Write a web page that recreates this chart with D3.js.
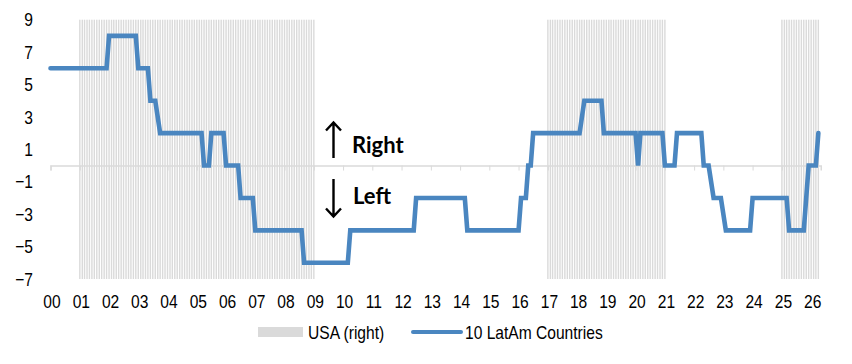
<!DOCTYPE html>
<html lang="en">
<head>
<meta charset="UTF-8" />
<title>LatAm political swing</title>
<script src="https://cdn.jsdelivr.net/npm/d3@7"></script>
<style>
  body { margin: 0; background: #fff; }
  svg text { font-family: "Liberation Sans Narrow", "Arial Narrow", "Liberation Sans", Arial, sans-serif; fill: #000; }
  .note { font-family: Lato, "Open Sans", sans-serif; font-weight: bold; }
</style>
</head>
<body>
<script>
// --- data ---
// 10 LatAm Countries: months where the step series changes (value held between them)
var lineMonths = ["2000-01","2001-12","2002-01","2002-12","2003-01","2003-05","2003-06","2003-08","2003-10",
  "2005-03","2005-04","2005-06","2005-07","2005-12","2006-01","2006-06","2006-07","2006-12","2007-01",
  "2008-08","2008-09","2010-03","2010-04","2012-06","2012-07","2014-03","2014-04","2016-01","2016-02",
  "2016-04","2016-05","2016-06","2016-07","2018-02","2018-04","2018-11","2018-12","2020-01","2020-02",
  "2020-03","2020-12","2021-01","2021-05","2021-06","2022-04","2022-05","2022-07","2022-09","2022-12",
  "2023-02","2023-12","2024-01","2025-03","2025-04","2025-10","2025-12","2026-03","2026-04"];
var lineValues = [6,6,8,8,6,6,4,4,2,
  2,0,0,2,2,0,0,-2,-2,-4,
  -4,-6,-6,-4,-4,-2,-2,-4,-4,-2,
  -2,0,0,2,2,4,4,2,2,0,
  2,2,0,0,2,2,0,0,-2,-2,
  -4,-4,-2,-2,-4,-4,0,0,2];

// USA (right): periods with a monthly bar of 1 (right-wing administration)
var usaStart = ["2001-01","2017-01","2025-01"];
var usaEnd   = ["2009-01","2021-01","2026-04"];

var yTicks = [9,7,5,3,1,-1,-3,-5,-7];
var legendLabels = ["USA (right)", "10 LatAm Countries"];

var W = 852, H = 364;
var blue = "#4a86c0", grey = "#dadada";
var parse = d3.timeParse("%Y-%m");

// squeeze text to look like Arial Narrow
function narrow(sel) {
  sel.each(function() {
    var len = this.getComputedTextLength();
    d3.select(this).attr("textLength", len * 0.82).attr("lengthAdjust", "spacingAndGlyphs");
  });
}

var svg = d3.select("body").append("svg").attr("width", W).attr("height", H);

var x = d3.scaleTime()
  .domain([parse("2000-01"), parse("2026-05")])
  .range([50.5, 820.75]);
var y = d3.scaleLinear().domain([-7, 9]).range([279, 19.7]);
var y2 = d3.scaleLinear().domain([0, 1]).range([279, 19.7]);

// USA shading: monthly columns
var usaBars = [];
usaStart.forEach(function(s, i) {
  d3.timeMonth.range(parse(s), d3.timeMonth.offset(parse(usaEnd[i]), 1)).forEach(function(d) {
    usaBars.push({ date: d, value: 1 });
  });
});
var bw = 1.4;
svg.append("g").selectAll("rect")
  .data(usaBars)
  .enter()
  .append("rect")
  .attr("x", function(d) { return x(d.date) - bw / 2; })
  .attr("y", function(d) { return y2(d.value); })
  .attr("width", bw)
  .attr("height", function(d) { return y2(0) - y2(d.value); })
  .attr("fill", grey);

// zero axis with year ticks
var zeroAxis = d3.axisBottom(x).ticks(d3.timeYear.every(1)).tickSize(5).tickFormat("");
var za = svg.append("g")
  .attr("transform", "translate(0," + y(0) + ")")
  .call(zeroAxis);
za.select(".domain").attr("stroke", grey).attr("stroke-width", 1.5);
za.selectAll(".tick line").attr("stroke", grey);

// y labels
var yAxis = d3.axisLeft(y).tickValues(yTicks).tickSize(0);
var ya = svg.append("g").attr("transform", "translate(33,0)").call(yAxis);
ya.select(".domain").remove();
ya.selectAll("text").attr("x", 0).attr("font-size", 19).call(narrow);

// x labels
var xAxis = d3.axisBottom(x).ticks(d3.timeYear.every(1)).tickSize(0).tickFormat(d3.timeFormat("%y"));
var xa = svg.append("g").attr("transform", "translate(1,290)").call(xAxis);
xa.select(".domain").remove();
xa.selectAll("text").attr("y", 0).attr("dy", "0.95em").attr("font-size", 19).call(narrow);

// LatAm line
var pts = lineMonths.map(function(m, i) { return { date: parse(m), value: lineValues[i] }; });
var line = d3.line()
  .x(function(d) { return x(d.date); })
  .y(function(d) { return y(d.value); });
svg.append("path")
  .datum(pts)
  .attr("d", line)
  .attr("fill", "none")
  .attr("stroke", blue)
  .attr("stroke-width", 4.6)
  .attr("stroke-linecap", "round");

// Right / Left annotation
var arr = svg.append("g").attr("stroke", "#000").attr("stroke-width", 2.4).attr("fill", "none");
arr.append("path").attr("d", "M333.5,158 V123 M326,130.5 L333.5,122.5 L341,130.5");
arr.append("path").attr("d", "M333.5,179 V216 M326,208.5 L333.5,216.5 L341,208.5");
svg.append("text").attr("class", "note").attr("x", 352).attr("y", 152.5).attr("font-size", 22).text("Right");
svg.append("text").attr("class", "note").attr("x", 353).attr("y", 204).attr("font-size", 22).text("Left");

// legend
var lg = svg.append("g");
lg.append("rect").attr("x", 258).attr("y", 327).attr("width", 45).attr("height", 10).attr("fill", grey);
lg.append("text").attr("x", 308).attr("y", 339).attr("font-size", 19).text(legendLabels[0]).call(narrow);
lg.append("line").attr("x1", 413).attr("x2", 461).attr("y1", 332).attr("y2", 332)
  .attr("stroke", blue).attr("stroke-width", 4).attr("stroke-linecap", "round");
lg.append("text").attr("x", 465).attr("y", 339).attr("font-size", 19).text(legendLabels[1]).call(narrow);
</script>
</body>
</html>
